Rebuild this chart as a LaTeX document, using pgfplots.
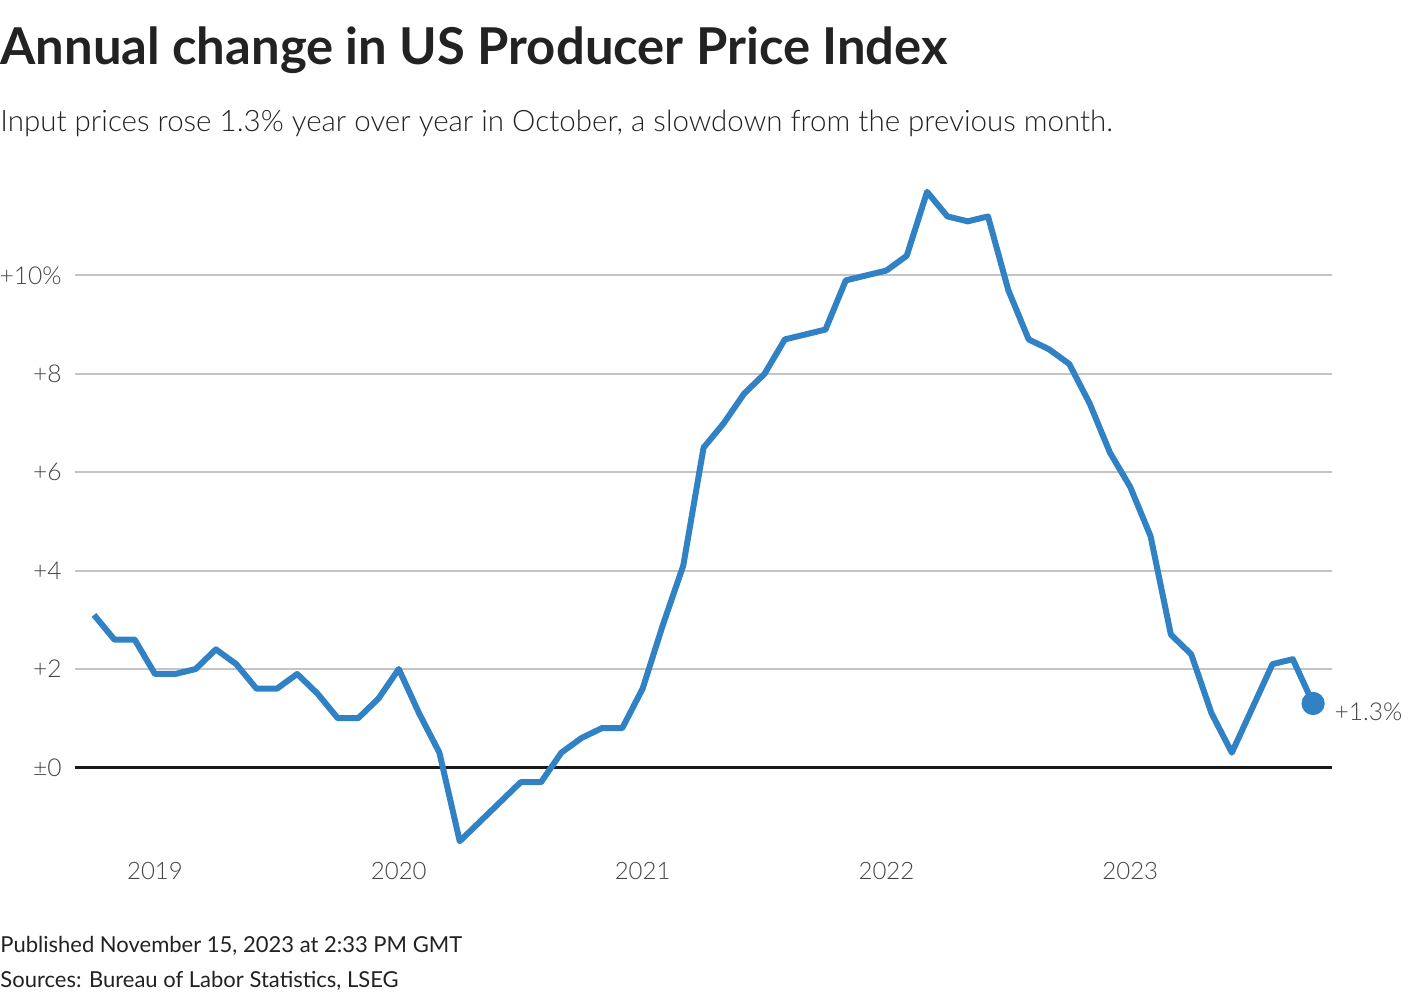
\documentclass[border=0pt]{standalone}
\usepackage{fontspec}
\setmainfont{Lato}
\newfontfamily\lightfont{Lato Light}
\usepackage{pgfplots}
\pgfplotsset{compat=1.18}
\definecolor{lineblue}{HTML}{3182C4}
\definecolor{gridgray}{HTML}{C4C4C4}
\definecolor{txt}{HTML}{222222}
\definecolor{ticktxt}{HTML}{444444}
\begin{document}
\begin{tikzpicture}[x=1pt,y=1pt]
\path[use as bounding box] (0,0) rectangle (710,500);
\node[anchor=base west, inner sep=0pt, font=\bfseries\fontsize{25.4}{29}\selectfont, text=txt] at (0,467.5) {Annual change in US Producer Price Index};
\node[anchor=base west, inner sep=0pt, font=\lightfont\fontsize{14.75}{18}\selectfont, text=txt] at (0,434) {Input prices rose 1.3\% year over year in October, a slowdown from the previous month.};
\begin{axis}[
  at={(37.5pt,72pt)}, anchor=south west,
  scale only axis, width=628.5pt, height=337pt,
  xmin=-0.935, xmax=60.93, ymin=-1.8, ymax=11.9,
  axis line style={draw=none}, major tick length=0pt,
  xtick={3,15,27,39,51}, xticklabels={2019,2020,2021,2022,2023},
  ytick={2,4,6,8,10}, yticklabels={{+2},{+4},{+6},{+8},{+10\%}},
  ymajorgrids, grid style={gridgray, line width=1pt},
  extra y ticks={0}, extra y tick labels={{±0}},
  extra y tick style={grid style={black!90, line width=1.25pt}},
  yticklabel style={anchor=east, inner sep=0pt, xshift=-6.5pt, font=\lightfont\fontsize{12.3}{15}\selectfont, text=ticktxt},
  xticklabel style={anchor=north, inner sep=0pt, yshift=-3pt, font=\lightfont\fontsize{12}{15}\selectfont, text=ticktxt},
  clip=false,
]
\addplot[lineblue, line width=3pt, line join=round] table {
x y
0 3.1
1 2.6
2 2.6
3 1.9
4 1.9
5 2.0
6 2.4
7 2.1
8 1.6
9 1.6
10 1.9
11 1.5
12 1.0
13 1.0
14 1.4
15 2.0
16 1.1
17 0.3
18 -1.5
19 -1.1
20 -0.7
21 -0.3
22 -0.3
23 0.3
24 0.6
25 0.8
26 0.8
27 1.6
28 2.9
29 4.1
30 6.5
31 7.0
32 7.6
33 8.0
34 8.7
35 8.8
36 8.9
37 9.9
38 10.0
39 10.1
40 10.4
41 11.7
42 11.2
43 11.1
44 11.2
45 9.7
46 8.7
47 8.5
48 8.2
49 7.4
50 6.4
51 5.7
52 4.7
53 2.7
54 2.3
55 1.1
56 0.3
57 1.2
58 2.1
59 2.2
60 1.3
};
\addplot[lineblue, only marks, mark=*, mark size=5.6pt] coordinates {(60,1.3)};
\node[anchor=west, inner sep=0pt, xshift=10.5pt, yshift=-4.25pt, font=\lightfont\fontsize{12.3}{15}\selectfont, text=ticktxt] at (axis cs:60,1.3) {+1.3\%};
\end{axis}
\node[anchor=base west, inner sep=0pt, font=\fontsize{11}{13}\selectfont, text=txt] at (0,23.5) {Published November 15, 2023 at 2:33 PM GMT};
\node[anchor=base west, inner sep=0pt, font=\fontsize{11}{13}\selectfont, text=txt] at (0,6) {Sources: Bureau of Labor Statistics, LSEG};
\end{tikzpicture}
\end{document}
